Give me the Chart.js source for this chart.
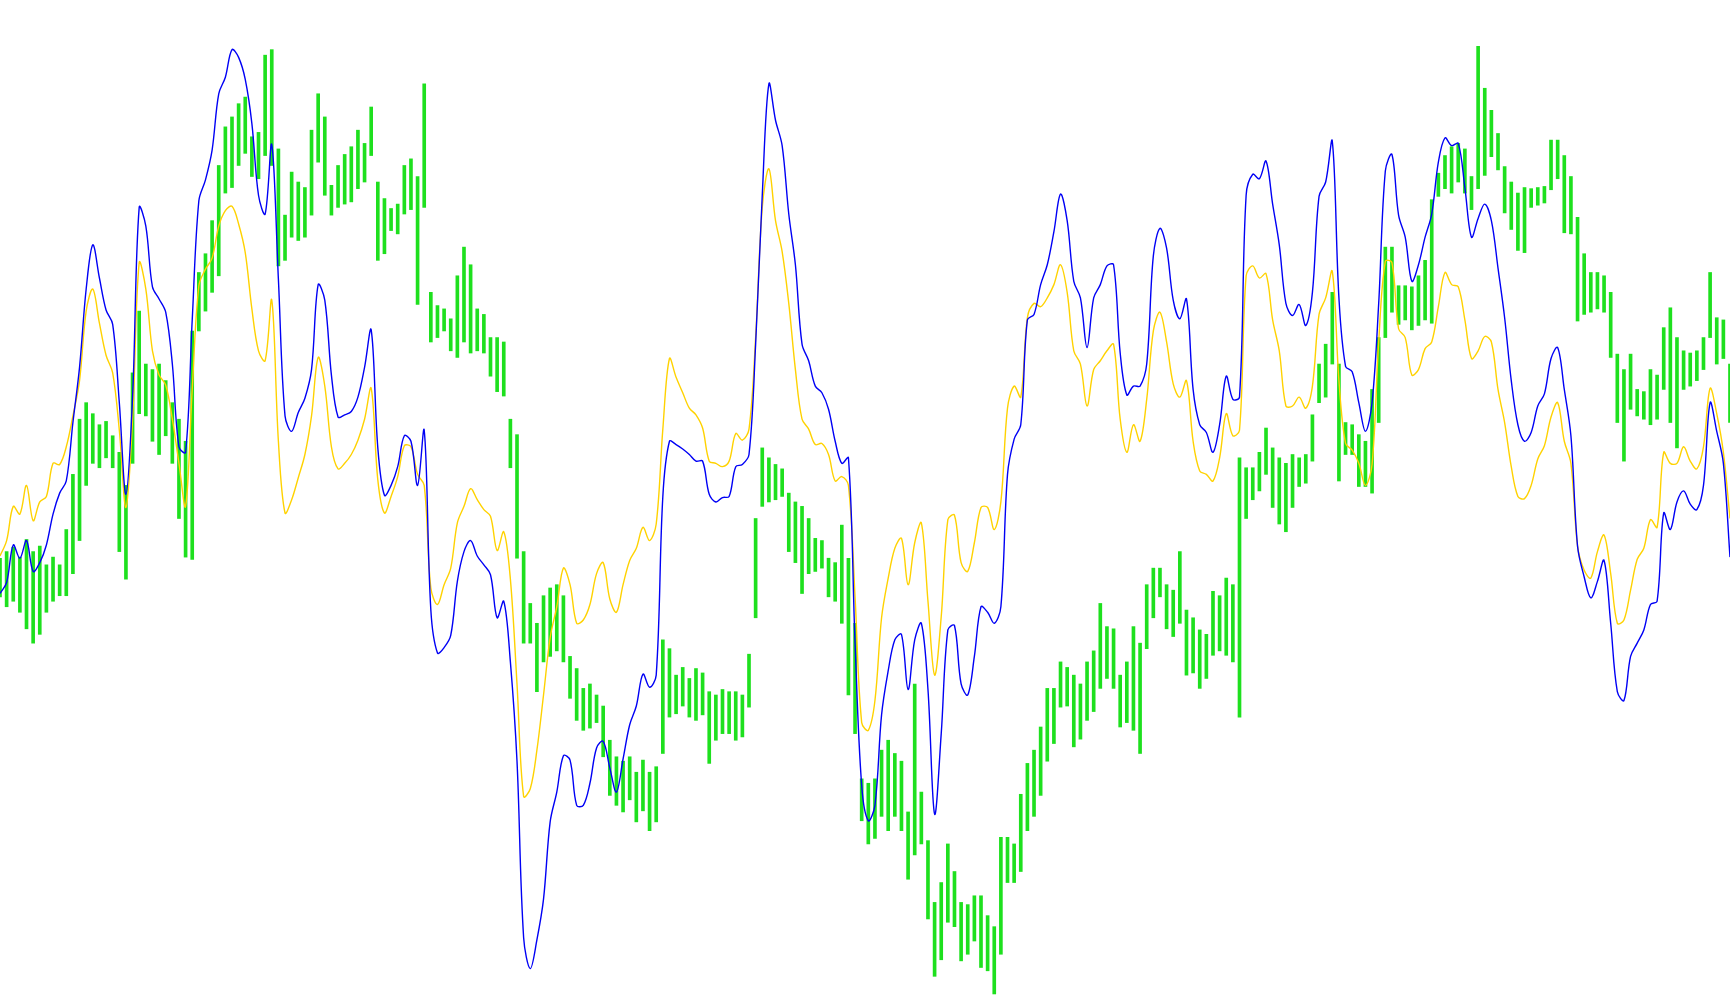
<!DOCTYPE html>
<html>
<head>
<meta charset="utf-8">
<script src="https://cdn.jsdelivr.net/npm/chart.js@4.4.1/dist/chart.umd.min.js"></script>
<style>
  html, body { margin: 0; padding: 0; background: #ffffff; overflow: hidden; }
  #wrap { width: 1730px; height: 1005px; position: relative; }
</style>
</head>
<body>
<div id="wrap"><canvas id="c" width="1730" height="1005"></canvas></div>
<script>
// Blue smooth line (value units; higher = up)
const blueLine = [
  373,383,417,405,421,393,401,417,445,464,
  475,528,578,649,689,659,630,617,546,463,
  551,723,706,651,640,628,581,506,501,621,
  729,748,775,826,841,866,859,839,799,734,
  717,780,658,534,520,537,550,576,653,639,
  571,533,535,538,551,578,612,505,462,471,
  488,516,511,471,521,358,319,324,335,384,
  411,421,407,399,390,351,366,311,221,61,
  33,59,96,166,193,226,222,181,181,201,
  233,239,215,193,223,254,271,300,288,299,
  461,511,508,504,499,493,493,463,456,460,
  461,488,490,499,599,734,835,802,779,717,
  671,599,584,561,555,540,511,491,496,328,
  199,167,181,263,303,331,336,286,331,346,
  286,173,246,340,344,291,281,316,361,356,
  346,361,481,513,526,621,626,653,671,701,
  735,711,656,641,596,641,653,670,671,591,
  553,561,561,581,679,704,686,639,622,640,
  558,526,519,501,526,570,549,551,734,753,
  749,765,726,689,636,625,635,616,646,733,
  746,783,641,579,574,546,520,546,636,756,
  771,716,696,656,671,696,717,764,786,779,
  781,741,696,713,726,711,668,623,566,526,
  511,519,543,554,586,596,558,516,416,388,
  369,384,403,346,284,276,316,328,340,363,
  366,446,431,456,466,454,449,471,546,520,
  491,406
];

// Yellow smooth line
const yellowLine = [
  407,421,452,445,471,439,456,461,491,490,
  506,534,566,629,649,618,589,573,521,451,
  531,673,649,593,571,562,531,491,452,558,
  652,667,677,706,720,724,708,682,631,593,
  584,639,511,446,458,478,499,534,587,561,
  506,486,491,499,512,531,559,476,446,461,
  479,507,506,481,471,378,363,381,396,437,
  452,468,458,449,443,412,429,386,291,189,
  196,231,281,333,361,396,381,346,349,363,
  391,401,368,356,381,403,414,433,421,436,
  522,586,569,555,541,535,523,493,491,488,
  493,518,512,522,605,723,758,711,683,636,
  576,531,522,508,509,499,475,479,471,370,
  256,249,276,351,387,414,423,381,419,437,
  366,299,352,440,444,401,393,419,451,451,
  431,456,541,561,551,623,636,633,641,653,
  671,646,593,581,543,576,584,593,599,531,
  501,526,511,549,611,628,601,563,551,566,
  511,484,481,475,496,536,516,521,661,670,
  659,663,621,593,543,543,551,541,561,626,
  641,665,566,509,503,491,471,490,601,674,
  673,613,605,571,576,595,601,633,664,653,
  651,621,586,593,606,601,558,528,488,461,
  459,471,495,507,533,546,511,491,416,394,
  387,411,426,391,346,349,376,404,414,440,
  433,501,491,491,506,493,486,506,559,536,
  501,441
];

// Green high-low bars: lows
const greenLow = [
  370,361,366,356,341,328,336,356,366,371,
  371,391,421,471,491,487,496,487,411,386,
  491,536,534,511,499,516,491,441,406,404,
  611,629,646,661,736,741,761,772,751,749,
  770,761,670,675,696,693,696,716,764,734,
  716,723,726,728,740,746,770,675,681,702,
  699,717,721,635,723,601,605,611,593,587,
  601,591,593,591,570,556,552,487,405,328,
  328,284,311,316,321,311,278,258,249,251,
  256,225,190,181,175,186,166,176,158,166,
  228,261,264,271,261,258,263,219,240,246,
  246,240,243,270,351,452,456,458,461,411,
  401,373,391,393,396,370,366,346,281,246,
  167,146,151,171,158,171,158,114,136,146,
  78,26,41,75,71,40,46,58,34,31,
  10,46,111,111,121,158,171,190,221,237,
  270,271,234,241,258,266,287,296,287,252,
  256,249,228,323,351,370,341,334,346,299,
  301,287,296,317,321,317,311,261,441,458,
  466,481,451,436,429,451,470,473,493,546,
  551,581,475,499,499,470,470,464,528,605,
  628,617,621,612,616,621,618,733,740,736,
  746,736,721,740,752,769,757,718,703,684,
  682,723,725,727,739,749,700,699,620,626,
  628,631,628,587,528,493,540,534,531,526,
  531,558,528,505,558,561,566,576,605,581,
  586,528
];

// Green high-low bars: highs
const greenHigh = [
  405,411,415,406,422,411,416,399,406,399,
  431,481,531,546,536,526,529,516,501,471,
  573,629,581,576,581,566,546,531,511,611,
  664,681,711,761,796,805,817,823,787,791,
  861,866,776,716,755,746,741,793,826,805,
  743,761,771,778,793,781,814,746,731,722,
  726,761,767,751,835,646,634,631,622,661,
  687,671,631,626,605,605,601,531,517,411,
  364,346,371,378,381,371,316,305,287,291,
  281,271,240,225,221,225,211,222,211,216,
  331,323,299,306,296,305,301,284,281,286,
  284,284,281,318,441,505,496,490,486,464,
  456,452,441,423,421,405,401,435,405,346,
  205,201,205,231,240,228,221,175,291,193,
  149,93,111,146,121,93,91,99,99,81,
  71,152,152,146,191,219,231,252,287,287,
  311,306,299,291,311,321,364,343,341,299,
  311,343,328,381,396,396,381,376,411,358,
  351,340,336,375,371,387,381,496,487,487,
  501,523,505,496,491,499,496,499,535,581,
  599,646,581,528,526,517,511,558,605,687,
  687,652,652,651,661,675,730,754,770,778,
  781,776,751,869,831,811,790,760,746,736,
  741,740,741,742,784,784,770,751,714,681,
  664,664,661,646,590,576,590,558,556,576,
  571,614,632,605,593,591,593,605,664,623,
  621,581
];

// Categories (one per bar)
const categories = blueLine.map((_, i) => 'B' + (i + 1));

const greenBars = greenLow.map((lo, i) => [lo, greenHigh[i]]);

new Chart(document.getElementById('c'), {
  type: 'bar',
  data: {
    labels: categories,
    datasets: [
      {
        type: 'line', label: 'Blue', data: blueLine,
        borderColor: '#0000f5', borderWidth: 1.4, pointRadius: 0,
        tension: 0.35, fill: false, order: 0
      },
      {
        type: 'line', label: 'Yellow', data: yellowLine,
        borderColor: '#ffd200', borderWidth: 1.4, pointRadius: 0,
        tension: 0.35, fill: false, order: 1
      },
      {
        type: 'bar', label: 'Green', data: greenBars,
        backgroundColor: '#1ee01e', borderWidth: 0, borderSkipped: false,
        barThickness: 3, order: 2
      }
    ]
  },
  options: {
    responsive: false,
    animation: false,
    devicePixelRatio: 1,
    layout: { padding: 0 },
    plugins: { legend: { display: false }, tooltip: { enabled: false }, title: { display: false } },
    scales: {
      x: { display: false, offset: false, grid: { display: false, offset: false } },
      y: { display: false, min: 0, max: 911, grid: { display: false } }
    }
  }
});
</script>
</body>
</html>
